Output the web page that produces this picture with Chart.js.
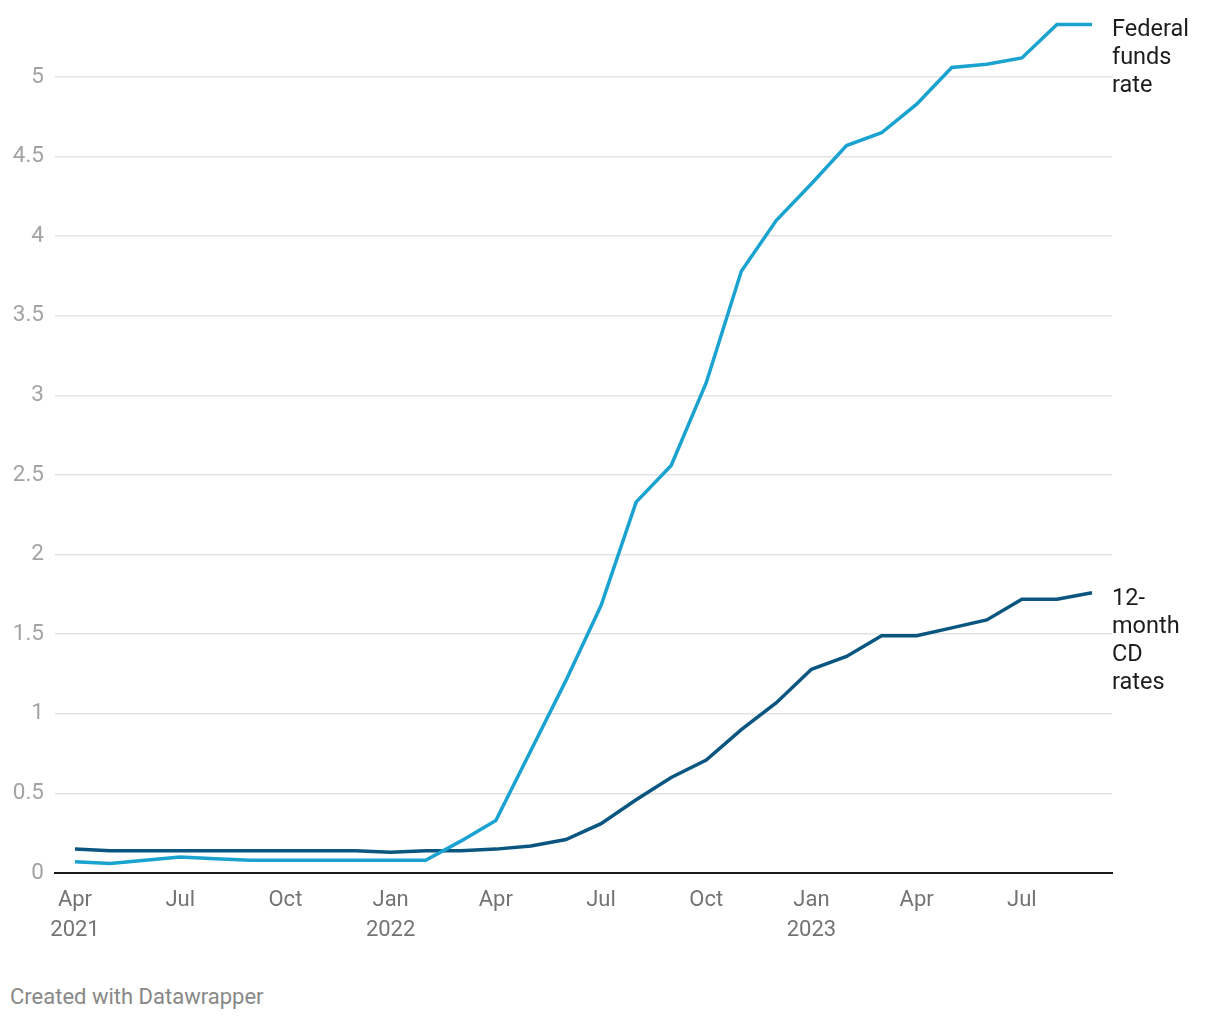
<!DOCTYPE html>
<html lang="en">
<head>
    <meta charset="UTF-8">
    <title>Federal funds rate vs 12-month CD rates</title>
    <script src="https://cdn.jsdelivr.net/npm/chart.js"></script>
    <style>
        body {
            margin: 0;
            padding: 0;
            background: #fff;
            font-family: Roboto, Arial, sans-serif;
        }
        .chartBox {
            position: relative;
            width: 1220px;
            height: 950px;
        }
        .credit {
            margin: 34px 0 0 10px;
            font-size: 22px;
            color: #888;
        }
    </style>
</head>
<body>
    <div class="chartBox">
        <canvas id="myChart"></canvas>
    </div>
    <div class="credit">Created with Datawrapper</div>
    <script>
        // monthly, Apr 2021 .. Sep 2023
        const months = ['Apr 2021','May 2021','Jun 2021','Jul 2021','Aug 2021','Sep 2021','Oct 2021','Nov 2021','Dec 2021',
            'Jan 2022','Feb 2022','Mar 2022','Apr 2022','May 2022','Jun 2022','Jul 2022','Aug 2022','Sep 2022','Oct 2022','Nov 2022','Dec 2022',
            'Jan 2023','Feb 2023','Mar 2023','Apr 2023','May 2023','Jun 2023','Jul 2023','Aug 2023','Sep 2023'];
        const fedFunds = [0.07,0.06,0.08,0.10,0.09,0.08,0.08,0.08,0.08,
            0.08,0.08,0.20,0.33,0.77,1.21,1.68,2.33,2.56,3.08,3.78,4.10,
            4.33,4.57,4.65,4.83,5.06,5.08,5.12,5.33,5.33];
        const cdRates = [0.15,0.14,0.14,0.14,0.14,0.14,0.14,0.14,0.14,
            0.13,0.14,0.14,0.15,0.17,0.21,0.31,0.46,0.60,0.71,0.90,1.07,
            1.28,1.36,1.49,1.49,1.54,1.59,1.72,1.72,1.76];
        const tickMonths = ['Apr 2021','Jul 2021','Oct 2021','Jan 2022','Apr 2022','Jul 2022','Oct 2022','Jan 2023','Apr 2023','Jul 2023'];
        const yTicks = [0, 0.5, 1, 1.5, 2, 2.5, 3, 3.5, 4, 4.5, 5];
        const seriesNames = [['Federal', 'funds', 'rate'], ['12-', 'month', 'CD', 'rates']];

        const fedColor = '#1aa3d0';
        const cdColor = '#0a5680';

        function toPoints(values) {
            return values.map((v, i) => ({x: i, y: v}));
        }

        // end-of-line labels
        const endLabels = {
            id: 'endLabels',
            afterDraw(chart) {
                const c = chart.ctx;
                const yScale = chart.scales.y;
                const left = chart.chartArea.right;
                c.save();
                c.font = '23.5px Roboto';
                c.fillStyle = '#1d1d1d';
                c.textBaseline = 'middle';
                c.textAlign = 'left';
                chart.data.datasets.forEach((ds, k) => {
                    const last = ds.data[ds.data.length - 1].y;
                    const y0 = yScale.getPixelForValue(last) + 6;
                    seriesNames[k].forEach((line, j) => {
                        c.fillText(line, left, y0 + j * 28);
                    });
                });
                c.restore();
            }
        };

        const ctx = document.getElementById('myChart');
        const myChart = new Chart(ctx, {
            type: 'line',
            data: {
                datasets: [{
                    label: 'Federal funds rate',
                    data: toPoints(fedFunds),
                    borderColor: fedColor,
                    borderWidth: 3.5,
                    pointRadius: 0,
                    tension: 0,
                }, {
                    label: '12-month CD rates',
                    data: toPoints(cdRates),
                    borderColor: cdColor,
                    borderWidth: 3.5,
                    pointRadius: 0,
                    tension: 0,
                }]
            },
            plugins: [endLabels],
            options: {
                responsive: true,
                maintainAspectRatio: false,
                animation: false,
                clip: false,
                layout: {
                    padding: {top: 19, right: 108, left: 0, bottom: 0}
                },
                plugins: {
                    legend: {display: false},
                    tooltip: {enabled: false}
                },
                scales: {
                    x: {
                        type: 'linear',
                        min: -0.57,
                        max: 29.57,
                        afterBuildTicks: (scale) => {
                            scale.ticks = tickMonths.map(m => ({value: months.indexOf(m)}));
                        },
                        afterFit: (scale) => { scale.height = 77; },
                        grid: {display: false, drawTicks: false},
                        border: {display: true, color: '#1a1a1a', width: 2},
                        ticks: {
                            padding: 13,
                            color: '#747474',
                            font: {family: 'Roboto', size: 22, lineHeight: 1.36},
                            maxRotation: 0,
                            autoSkip: false,
                            callback: (value) => {
                                const parts = months[value].split(' ');
                                if (value === 0 || parts[0] === 'Jan') return [parts[0], parts[1]];
                                return parts[0];
                            }
                        }
                    },
                    y: {
                        min: 0,
                        max: 5.33,
                        afterBuildTicks: (scale) => {
                            scale.ticks = yTicks.map(v => ({value: v}));
                        },
                        afterFit: (scale) => { scale.width = 55; },
                        grid: {color: '#e3e3e3', lineWidth: 1.5, drawTicks: false},
                        border: {display: false},
                        ticks: {
                            padding: 11,
                            color: '#a3a3a3',
                            font: {family: 'Roboto', size: 22.5},
                            callback: (value) => String(value)
                        }
                    }
                }
            }
        });
    </script>
</body>
</html>
